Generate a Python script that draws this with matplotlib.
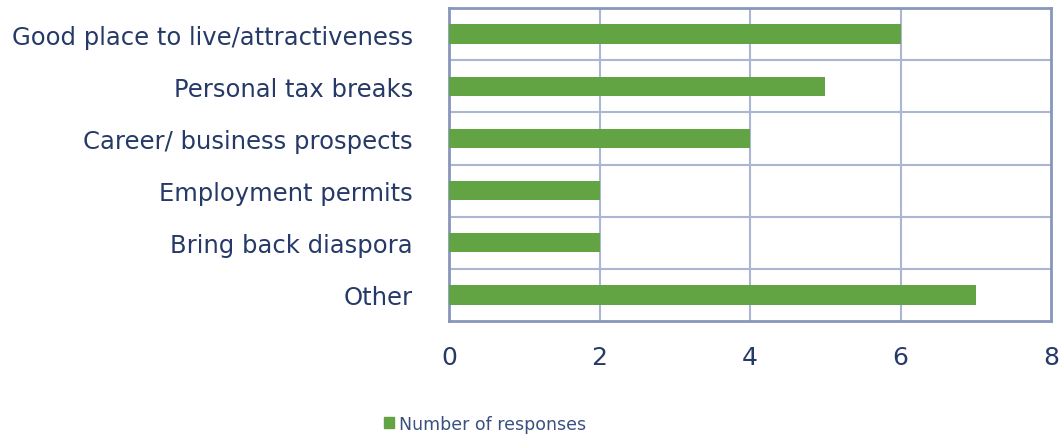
import matplotlib.pyplot as plt
from matplotlib.patches import Patch

# survey answers, top to bottom
categories = ["Good place to live/attractiveness", "Personal tax breaks",
              "Career/ business prospects", "Employment permits",
              "Bring back diaspora", "Other"]
responses = [6, 5, 4, 2, 2, 7]
x_ticks = [0, 2, 4, 6, 8]

green = "#62a344"
navy = "#263a68"
grid_col = "#aab6d2"

fig = plt.figure(figsize=(10.62, 4.39), dpi=100)
ax = fig.add_axes([449 / 1062, 1 - 322 / 439, (1051 - 449) / 1062, (322 - 9) / 439])

ypos = list(range(len(categories)))
ax.barh(ypos, responses, height=0.37, color=green, zorder=3)

ax.set_ylim(len(categories) - 0.5, -0.5)
ax.set_xlim(0, 8)
ax.set_xticks(x_ticks)
ax.set_xticklabels([str(t) for t in x_ticks], fontsize=18, color=navy)
ax.set_yticks(ypos)
ax.set_yticklabels(categories, fontsize=17.5, color=navy)
ax.tick_params(length=0)
ax.tick_params(axis="x", pad=17)
ax.tick_params(axis="y", pad=26)

# grid: vertical at ticks, horizontal between categories
for t in x_ticks[1:-1]:
    ax.axvline(t, color=grid_col, lw=1.5, zorder=1)
for b in range(1, len(categories)):
    ax.axhline(b - 0.5, color=grid_col, lw=1.5, zorder=1)

for s in ax.spines.values():
    s.set_color("#8796bb")
    s.set_linewidth(2)

fig.legend(handles=[Patch(color=green)], labels=["Number of responses"],
           loc="center left", bbox_to_anchor=(368 / 1062, 1 - 425 / 439),
           frameon=False, fontsize=12.5, handlelength=0.6, handleheight=0.6,
           handletextpad=0.3, labelcolor="#3a5080")

fig.savefig("out.png", dpi=100, facecolor="white")
